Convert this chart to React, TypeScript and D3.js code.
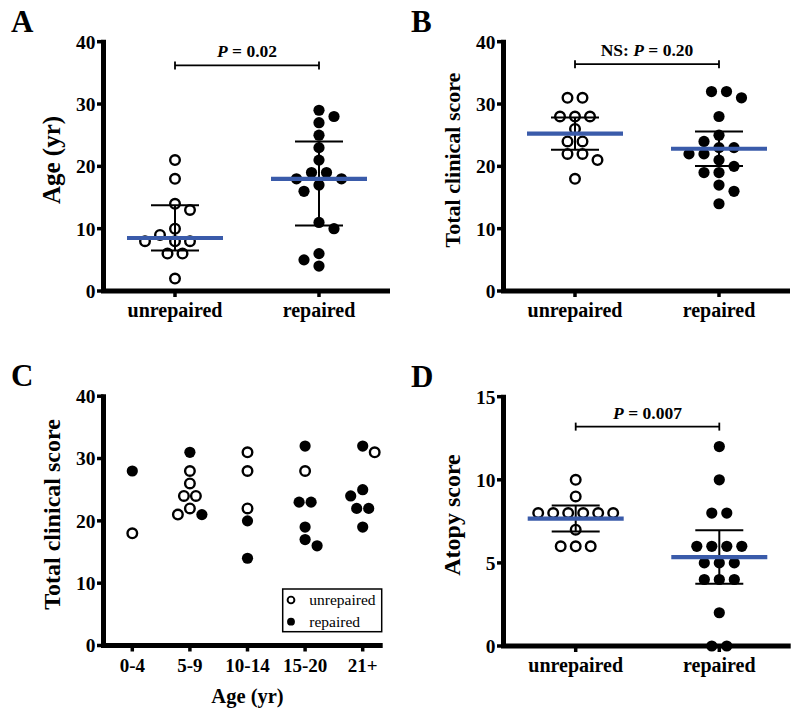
import React from "react";
import * as d3 from "d3";

// ---------- data ----------
const groups = ["unrepaired", "repaired"];
// Panel A: age (yr)
const ageUnrepaired = [21, 18, 14, 13, 10, 9, 8, 8, 8, 6, 6, 2];
const ageRepaired = [29, 28, 27, 25, 23, 21, 19, 19, 18, 18, 17, 16, 11, 10, 6, 5, 4];
// Panel B: total clinical score
const scoreUnrepaired = [31, 31, 28, 28, 28, 26, 24, 24, 22, 22, 21, 18];
const scoreRepaired = [32, 32, 31, 28, 25, 24, 23, 23, 22, 22, 21, 20, 19, 19, 17, 16, 14];
// Panel C: total clinical score by age group
const ageGroups = ["0-4", "5-9", "10-14", "15-20", "21+"];
const scoreByAgeUnrepaired = [[18], [28, 26, 24, 24, 22, 21], [31, 28, 22], [28], [31]];
const scoreByAgeRepaired = [[28], [31, 21], [20, 14], [32, 23, 23, 19, 17, 16], [32, 25, 24, 22, 22, 19]];
// Panel D: atopy score
const atopyUnrepaired = [10, 9, 8, 8, 8, 8, 8, 8, 7, 6, 6, 6];
const atopyRepaired = [12, 10, 8, 8, 6, 6, 6, 6, 5, 5, 5, 4, 4, 4, 2, 0, 0];
// axes / annotations
const ticks40 = [0, 10, 20, 30, 40];
const ticks15 = [0, 5, 10, 15];
const pValueA = "0.02";
const pValueB = "0.20";
const pValueD = "0.007";

// ---------- stats helpers ----------
function lgamma(z: number): number {
  const c = [0.99999999999980993, 676.5203681218851, -1259.1392167224028, 771.32342877765313,
    -176.61502916214059, 12.507343278686905, -0.13857109526572012, 9.9843695780195716e-6, 1.5056327351493116e-7];
  if (z < 0.5) return Math.log(Math.PI / Math.sin(Math.PI * z)) - lgamma(1 - z);
  z -= 1;
  let x = c[0];
  for (let i = 1; i < 9; i++) x += c[i] / (z + i);
  const t = z + 7.5;
  return 0.5 * Math.log(2 * Math.PI) + (z + 0.5) * Math.log(t) - t + Math.log(x);
}
function tHalfCdf(x: number, v: number): number {
  const k = Math.exp(lgamma((v + 1) / 2) - lgamma(v / 2)) / Math.sqrt(v * Math.PI);
  const f = (t: number) => k * Math.pow(1 + (t * t) / v, -(v + 1) / 2);
  const n = 400;
  const h = x / n;
  let s = f(0) + f(x);
  for (let i = 1; i < n; i++) s += (i % 2 ? 4 : 2) * f(i * h);
  return (s * h) / 3;
}
function tCrit(v: number): number {
  let lo = 0, hi = 20;
  for (let i = 0; i < 50; i++) {
    const mid = (lo + hi) / 2;
    if (tHalfCdf(mid, v) < 0.475) lo = mid; else hi = mid;
  }
  return (lo + hi) / 2;
}
function quantileN1(vals: number[], p: number): number {
  const s = [...vals].sort((a, b) => a - b);
  const n = s.length;
  const h = (n + 1) * p;
  const lo = Math.floor(h);
  if (lo < 1) return s[0];
  if (lo >= n) return s[n - 1];
  return s[lo - 1] + (h - lo) * (s[lo] - s[lo - 1]);
}
function summarize(vals: number[], kind: "median" | "mean") {
  if (kind === "median") {
    return { c: quantileN1(vals, 0.5), lo: quantileN1(vals, 0.25), hi: quantileN1(vals, 0.75) };
  }
  const m = d3.mean(vals) as number;
  const sem = (d3.deviation(vals) as number) / Math.sqrt(vals.length);
  const t = tCrit(vals.length - 1);
  return { c: m, lo: m - t * sem, hi: m + t * sem };
}

// ---------- beeswarm ----------
type Pt = { v: number; filled: boolean };
function swarm(pts: Pt[], y: (v: number) => number, step: number, dmin: number): number[] {
  const order = pts.map((_, i) => i).sort((a, b) => pts[b].v - pts[a].v || a - b);
  const out = new Array(pts.length).fill(0);
  const placed: { x: number; y: number }[] = [];
  const ok = (x: number, yy: number) => placed.every((p) => Math.hypot(p.x - x, p.y - yy) >= dmin - 1e-6);
  let i = 0;
  while (i < order.length) {
    let j = i;
    while (j < order.length && pts[order[j]].v === pts[order[i]].v) j++;
    const grp = order.slice(i, j);
    const k = grp.length;
    const yy = y(pts[grp[0]].v);
    let done = false;
    for (const shift of [0, step, -step]) {
      const xs = grp.map((_, q) => (q - (k - 1) / 2) * 2 * step + shift);
      if (xs.every((x) => ok(x, yy))) {
        grp.forEach((idx, q) => { out[idx] = xs[q]; placed.push({ x: xs[q], y: yy }); });
        done = true;
        break;
      }
    }
    if (!done) {
      for (const idx of grp) {
        const sum = placed.reduce((s, p) => s + p.x, 0);
        const pref = sum > 0 ? -1 : 1;
        for (let m = 0; m < 12; m++) {
          const cands = m === 0 ? [0] : [pref * m * step, -pref * m * step];
          const hit = cands.find((x) => ok(x, yy));
          if (hit !== undefined) { out[idx] = hit; placed.push({ x: hit, y: yy }); break; }
        }
      }
    }
    i = j;
  }
  return out;
}

// ---------- drawing ----------
const FONT = "'Liberation Serif', 'Times New Roman', serif";
const Y_TOP = 41.7;
const Y_BOT = 291;
const AXIS_X = 103.5;
const BLUE = "#3A5BAA";

type PanelProps = {
  ox: number; oy: number; label: string;
  yMax: number; yTicks: number[]; yTitle: string; yTitleSize: number;
  cats: string[]; catRange: [number, number]; xEnd: number; catFont: number;
  data: Pt[][]; summary: "median" | "mean" | null; step: number;
  bracket?: { at: number; text: string; ns?: boolean };
  xTitle?: string; legend?: boolean;
};

function Panel(p: PanelProps) {
  const y = d3.scaleLinear().domain([0, p.yMax]).range([Y_BOT, Y_TOP]);
  const x = d3.scalePoint<string>().domain(p.cats).range(p.catRange);
  const c0 = x(p.cats[0]) as number;
  const c1 = x(p.cats[p.cats.length - 1]) as number;
  return (
    <g transform={`translate(${p.ox},${p.oy})`} fontFamily={FONT}>
      <text x={11} y={31.7} fontSize={31} fontWeight="bold">{p.label}</text>
      {/* axes */}
      <line x1={AXIS_X} x2={AXIS_X} y1={Y_TOP - 2} y2={Y_BOT} stroke="#000" strokeWidth={5} />
      <line x1={AXIS_X - 2.5} x2={p.xEnd} y1={Y_BOT} y2={Y_BOT} stroke="#000" strokeWidth={5} />
      {p.yTicks.map((t) => (
        <g key={t}>
          <line x1={97} x2={AXIS_X} y1={y(t)} y2={y(t)} stroke="#000" strokeWidth={3.5} />
          <text x={95.5} y={y(t)} dy="0.35em" textAnchor="end" fontSize={19.5} fontWeight="bold">{t}</text>
        </g>
      ))}
      {p.cats.map((c) => (
        <g key={c}>
          <line x1={x(c)} x2={x(c)} y1={Y_BOT} y2={Y_BOT + 6} stroke="#000" strokeWidth={3.5} />
          <text x={x(c)} y={317} textAnchor="middle" fontSize={p.catFont} fontWeight="bold">{c}</text>
        </g>
      ))}
      <text transform={`translate(59.5,160) rotate(-90)`} textAnchor="middle" fontSize={p.yTitleSize} fontWeight="bold">{p.yTitle}</text>
      {p.xTitle && (
        <text x={247.5} y={348.5} textAnchor="middle" fontSize={20.5} fontWeight="bold">{p.xTitle}</text>
      )}
      {/* points */}
      {p.data.map((pts, ci) => {
        const cx = x(p.cats[ci]) as number;
        const offs = swarm(pts, (v) => y(v), p.step, 11.5);
        return (
          <g key={ci}>
            {pts.map((pt, k) =>
              pt.filled ? (
                <circle key={k} cx={cx + offs[k]} cy={y(pt.v)} r={5.6} fill="#000" />
              ) : (
                <circle key={k} cx={cx + offs[k]} cy={y(pt.v)} r={4.8} fill="#fff" stroke="#000" strokeWidth={2.4} />
              )
            )}
          </g>
        );
      })}
      {/* summary */}
      {p.summary && p.data.map((pts, ci) => {
        const cx = x(p.cats[ci]) as number;
        const s = summarize(pts.map((d) => d.v), p.summary as "median" | "mean");
        return (
          <g key={"s" + ci}>
            <line x1={cx} x2={cx} y1={y(s.lo)} y2={y(s.hi)} stroke="#000" strokeWidth={2} />
            <line x1={cx - 24} x2={cx + 24} y1={y(s.lo)} y2={y(s.lo)} stroke="#000" strokeWidth={2} />
            <line x1={cx - 24} x2={cx + 24} y1={y(s.hi)} y2={y(s.hi)} stroke="#000" strokeWidth={2} />
            <line x1={cx - 48} x2={cx + 48} y1={y(s.c)} y2={y(s.c)} stroke={BLUE} strokeWidth={4.2} />
          </g>
        );
      })}
      {p.bracket && (
        <g>
          <line x1={c0} x2={c1} y1={y(p.bracket.at)} y2={y(p.bracket.at)} stroke="#000" strokeWidth={1.8} />
          <line x1={c0} x2={c0} y1={y(p.bracket.at) - 4} y2={y(p.bracket.at) + 4} stroke="#000" strokeWidth={1.8} />
          <line x1={c1} x2={c1} y1={y(p.bracket.at) - 4} y2={y(p.bracket.at) + 4} stroke="#000" strokeWidth={1.8} />
          <text x={(c0 + c1) / 2} y={y(p.bracket.at) - 8} textAnchor="middle" fontSize={17.5} fontWeight="bold">
            {p.bracket.ns ? "NS: " : ""}
            <tspan fontStyle="italic">P</tspan>
            {" = " + p.bracket.text}
          </text>
        </g>
      )}
      {p.legend && (
        <g>
          <rect x={282.7} y={234.5} width={99} height={42.7} fill="#fff" stroke="#000" strokeWidth={1.5} />
          <circle cx={291} cy={245.5} r={3.4} fill="#fff" stroke="#000" strokeWidth={1.9} />
          <text x={309.3} y={245.5} dy="0.33em" fontSize={15.5}>unrepaired</text>
          <circle cx={291} cy={267.2} r={3.9} fill="#000" />
          <text x={309.3} y={267.2} dy="0.33em" fontSize={15.5}>repaired</text>
        </g>
      )}
    </g>
  );
}

const asPts = (vals: number[], filled: boolean): Pt[] => vals.map((v) => ({ v, filled }));

export default function App() {
  const dataC = ageGroups.map((_, i) => [
    ...asPts(scoreByAgeRepaired[i], true),
    ...asPts(scoreByAgeUnrepaired[i], false),
  ]);
  return (
    <svg width={800} height={717} style={{ position: "absolute", left: 0, top: 0, background: "#fff" }}>
      <rect width={800} height={717} fill="#fff" />
      <Panel ox={0} oy={0} label="A" yMax={40} yTicks={ticks40} yTitle="Age (yr)" yTitleSize={25}
        cats={groups} catRange={[175, 319]} xEnd={390} catFont={20}
        data={[asPts(ageUnrepaired, false), asPts(ageRepaired, true)]} summary="median" step={7.5}
        bracket={{ at: 36.2, text: pValueA }} />
      <Panel ox={400} oy={0} label="B" yMax={40} yTicks={ticks40} yTitle="Total clinical score" yTitleSize={22}
        cats={groups} catRange={[175, 319]} xEnd={390} catFont={20}
        data={[asPts(scoreUnrepaired, false), asPts(scoreRepaired, true)]} summary="mean" step={7.5}
        bracket={{ at: 36.4, text: pValueB, ns: true }} />
      <Panel ox={0} oy={354.5} label="C" yMax={40} yTicks={ticks40} yTitle="Total clinical score" yTitleSize={24}
        cats={ageGroups} catRange={[132.3, 362.7]} xEnd={382.7} catFont={19}
        data={dataC} summary={null} step={6} xTitle="Age (yr)" legend />
      <Panel ox={400} oy={355} label="D" yMax={15} yTicks={ticks15} yTitle="Atopy score" yTitleSize={24}
        cats={groups} catRange={[175.7, 319.3]} xEnd={390.7} catFont={20}
        data={[asPts(atopyUnrepaired, false), asPts(atopyRepaired, true)]} summary="mean" step={7.5}
        bracket={{ at: 13.2, text: pValueD }} />
    </svg>
  );
}
